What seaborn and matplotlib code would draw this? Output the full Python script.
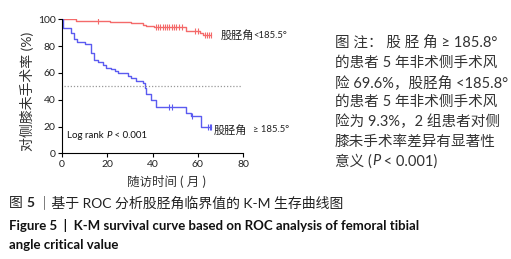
import numpy as np
import pandas as pd
import matplotlib
matplotlib.use("Agg")
import matplotlib.pyplot as plt
import seaborn as sns

sns.set_theme(style="ticks")
plt.rcParams["font.family"] = ["Lato", "Noto Sans CJK SC", "DejaVu Sans"]

# K-M steps, group >= 185.5 (blue)
blue_t = [0, 0.5, 3.8, 5.2, 6.6, 10, 13, 14, 16, 18, 19.6, 21.8, 23.3, 24.7,
          29, 30.6, 32.8, 35.7, 36.5, 37.2, 39.3, 41.7, 55, 56.8, 61.6, 66]
blue_s = [100, 93.3, 90, 85, 83.3, 81.6, 74.6, 69.7, 68, 66, 64, 62.7, 61.4, 59.7,
          58, 56, 54, 52.7, 48.5, 44.3, 39.8, 34.8, 30.3, 27.9, 19.9, 19.9]
blue_cens = [47.5, 48.5, 57.5, 64.5, 65.3, 66]

# group < 185.5 (red)
red_t = [0, 6.3, 21, 30.6, 35.8, 37, 40.5, 55, 61, 62.3, 66]
red_s = [100, 99, 98, 97, 96, 95, 94, 91, 90, 88.3, 88.3]
red_cens = [16, 41.5, 42.5, 43.5, 44.5, 45.5, 46.5, 47.5, 48.5, 49.5, 50.5,
            51.5, 53, 59, 60, 63, 64, 65, 66]

x_ticks = [0, 20, 40, 60, 80]
y_ticks = [0, 20, 40, 60, 80, 100]

red_c = "#f46a6a"
blue_c = "#5b5bf0"

fig = plt.figure(figsize=(5.11, 2.59), dpi=100)
ax = fig.add_axes([62 / 511, 1 - 153.3 / 259, 181 / 511, 134 / 259])
renderer = fig.canvas.get_renderer()


def censor_df(t, s, cens):
    idx = np.searchsorted(t, cens, side="right") - 1
    return pd.DataFrame({"t": cens, "s": np.array(s)[idx]})


def rich_text(x_px, y_px, pieces, **kw):
    # pieces: list of (text, extra kwargs); laid out left to right
    x = x_px
    for txt, extra in pieces:
        t = fig.text(x / 511, 1 - y_px / 259, txt, ha="left", va="center",
                     **{**kw, **extra})
        x += t.get_window_extent(renderer).width


for t, s, cens, c in [(red_t, red_s, red_cens, red_c),
                      (blue_t, blue_s, blue_cens, blue_c)]:
    df = pd.DataFrame({"t": t, "s": s})
    sns.lineplot(data=df, x="t", y="s", drawstyle="steps-post", color=c,
                 linewidth=1.0, ax=ax, estimator=None, sort=False)
    sns.scatterplot(data=censor_df(t, s, cens), x="t", y="s", marker="|",
                    color=c, s=14, linewidth=0.8, ax=ax)

ax.plot([0.8, 79], [50, 50], linestyle=(0, (1, 1.5)), color="#999999", linewidth=0.9)

ax.set_xlim(0, 80)
ax.set_ylim(0, 100)
ax.set_xticks(x_ticks)
ax.set_yticks(y_ticks)
ax.tick_params(labelsize=7.5, length=3, width=0.8, color="black", pad=1.5,
               labelcolor="#222222")
for sp in ["left", "bottom"]:
    ax.spines[sp].set_linewidth(0.8)
    ax.spines[sp].set_color("black")
sns.despine(ax=ax)
ax.set_xlabel("")
ax.set_ylabel("")

fig.text(27 / 511, 1 - 91 / 259, "对侧膝未手术率 (%)", rotation=90, ha="center",
         va="center", fontsize=10, color="#333333")
fig.text(166 / 511, 1 - 182 / 259, "随访时间 ( 月 )", ha="center", va="center",
         fontsize=9, color="#333333")

fig.text(221 / 511, 1 - 35 / 259, "股胫角", ha="left", va="center", fontsize=8,
         color="#222222")
fig.text(253 / 511, 1 - 35 / 259, "<185.5°", ha="left", va="center", fontsize=6.8,
         color="#222222")
fig.text(214 / 511, 1 - 130 / 259, "股胫角", ha="left", va="center", fontsize=8,
         color="#222222")
fig.text(253 / 511, 1 - 130 / 259, "≥ 185.5°", ha="left", va="center", fontsize=6.8,
         color="#222222")
rich_text(67, 135, [("Log rank ", {}), ("P", {"style": "italic"}), (" < 0.001", {})],
          fontsize=7, color="#111111")

note_lines = ["图 注： 股 胫 角 ≥ 185.8°",
              "的患者 5 年非术侧手术风",
              "险 69.6%，股胫角 <185.8°",
              "的患者 5 年非术侧手术风",
              "险为 9.3%，2 组患者对侧",
              "膝未手术率差异有显著性"]
for i, line in enumerate(note_lines):
    fig.text(335 / 511, 1 - (43 + i * 19.7) / 259, line, ha="left", va="center",
             fontsize=10.5, color="#333333")
rich_text(335, 43 + 6 * 19.7,
          [("意义 (", {}), ("P", {"style": "italic"}), (" < 0.001)", {})],
          fontsize=10.5, color="#333333")

rich_text(9, 203, [("图 ", {}), ("5", {"fontweight": "bold"}),
                   (" ｜基于 ROC 分析股胫角临界值的 K-M 生存曲线图", {})],
          fontsize=10, color="#222222")
fig.text(9 / 511, 1 - 225 / 259,
         "Figure 5  |  K-M survival curve based on ROC analysis of femoral tibial",
         ha="left", va="center", fontsize=9.5, fontweight="bold", color="#111111")
fig.text(9 / 511, 1 - 245 / 259, "angle critical value", ha="left", va="center",
         fontsize=9.5, fontweight="bold", color="#111111")

fig.savefig("out.png", dpi=100)
